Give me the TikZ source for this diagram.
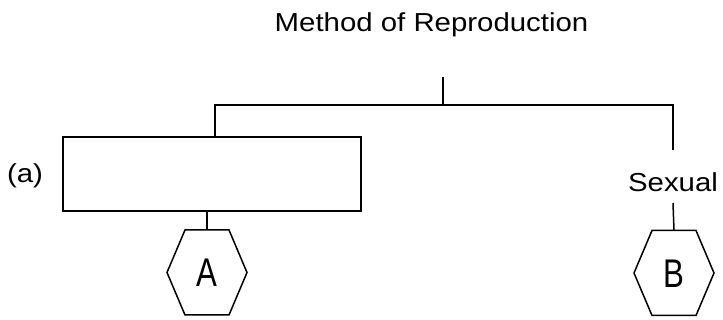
\documentclass[tikz,border=0pt]{standalone}
\usepackage{fontspec}
\setmainfont{Liberation Sans}
\newfontfamily\labelfont[FakeStretch=1.13]{Liberation Sans}
\newfontfamily\hexfont[FakeStretch=0.78]{Liberation Sans}
\begin{document}
\begin{tikzpicture}[x=1pt,y=-1pt,
  line width=1.5pt,
  lbl/.style={inner sep=0pt,font=\labelfont\fontsize{26}{30}\selectfont},
  hexletter/.style={inner sep=0pt,font=\hexfont\fontsize{40}{44}\selectfont},
  blankbox/.style={draw,minimum width=298pt,minimum height=74pt,inner sep=0pt},
  hexa/.pic={
    \draw[line join=miter] (-22,-42.5) -- (22,-42.5) -- (40,0) -- (22,42.5)
      -- (-22,42.5) -- (-40,0) -- cycle;
    \coordinate (-top) at (0,-42.5);
  }]
  \useasboundingbox (0,0) rectangle (723,320);

  % heading and the branch lines under it
  \node[lbl,anchor=base] (title) at (431.5,32) {Method of Reproduction};
  \coordinate (stemtop) at (443,77);
  \coordinate (junc) at (443,105);
  \coordinate (brleft) at (215,105);
  \coordinate (brright) at (673,105);

  % left branch: empty box labelled (a)
  \node[blankbox] (box) at (212,174) {};
  \node[lbl,anchor=base] (alabel) at (25,183) {(a)};

  % right branch label
  \node[lbl,anchor=base] (sexual) at (673,192) {Sexual};
  \coordinate (sexabove) at (673,150);
  \coordinate (sexbelow) at (673,203);

  % hexagons
  \pic (hA) at (207,272.5) {hexa};
  \node[hexletter] (A) at (207,273) {A};
  \pic (hB) at (674,273) {hexa};
  \node[hexletter] (B) at (674,273.5) {B};

  % connectors
  \draw (stemtop) -- (junc);
  \draw (box.north -| brleft) -- (brleft) -- (brright) -- (sexabove);
  \draw (box.south -| hA-top) -- (hA-top);
  \draw (sexbelow) -- (hB-top);
\end{tikzpicture}
\end{document}
